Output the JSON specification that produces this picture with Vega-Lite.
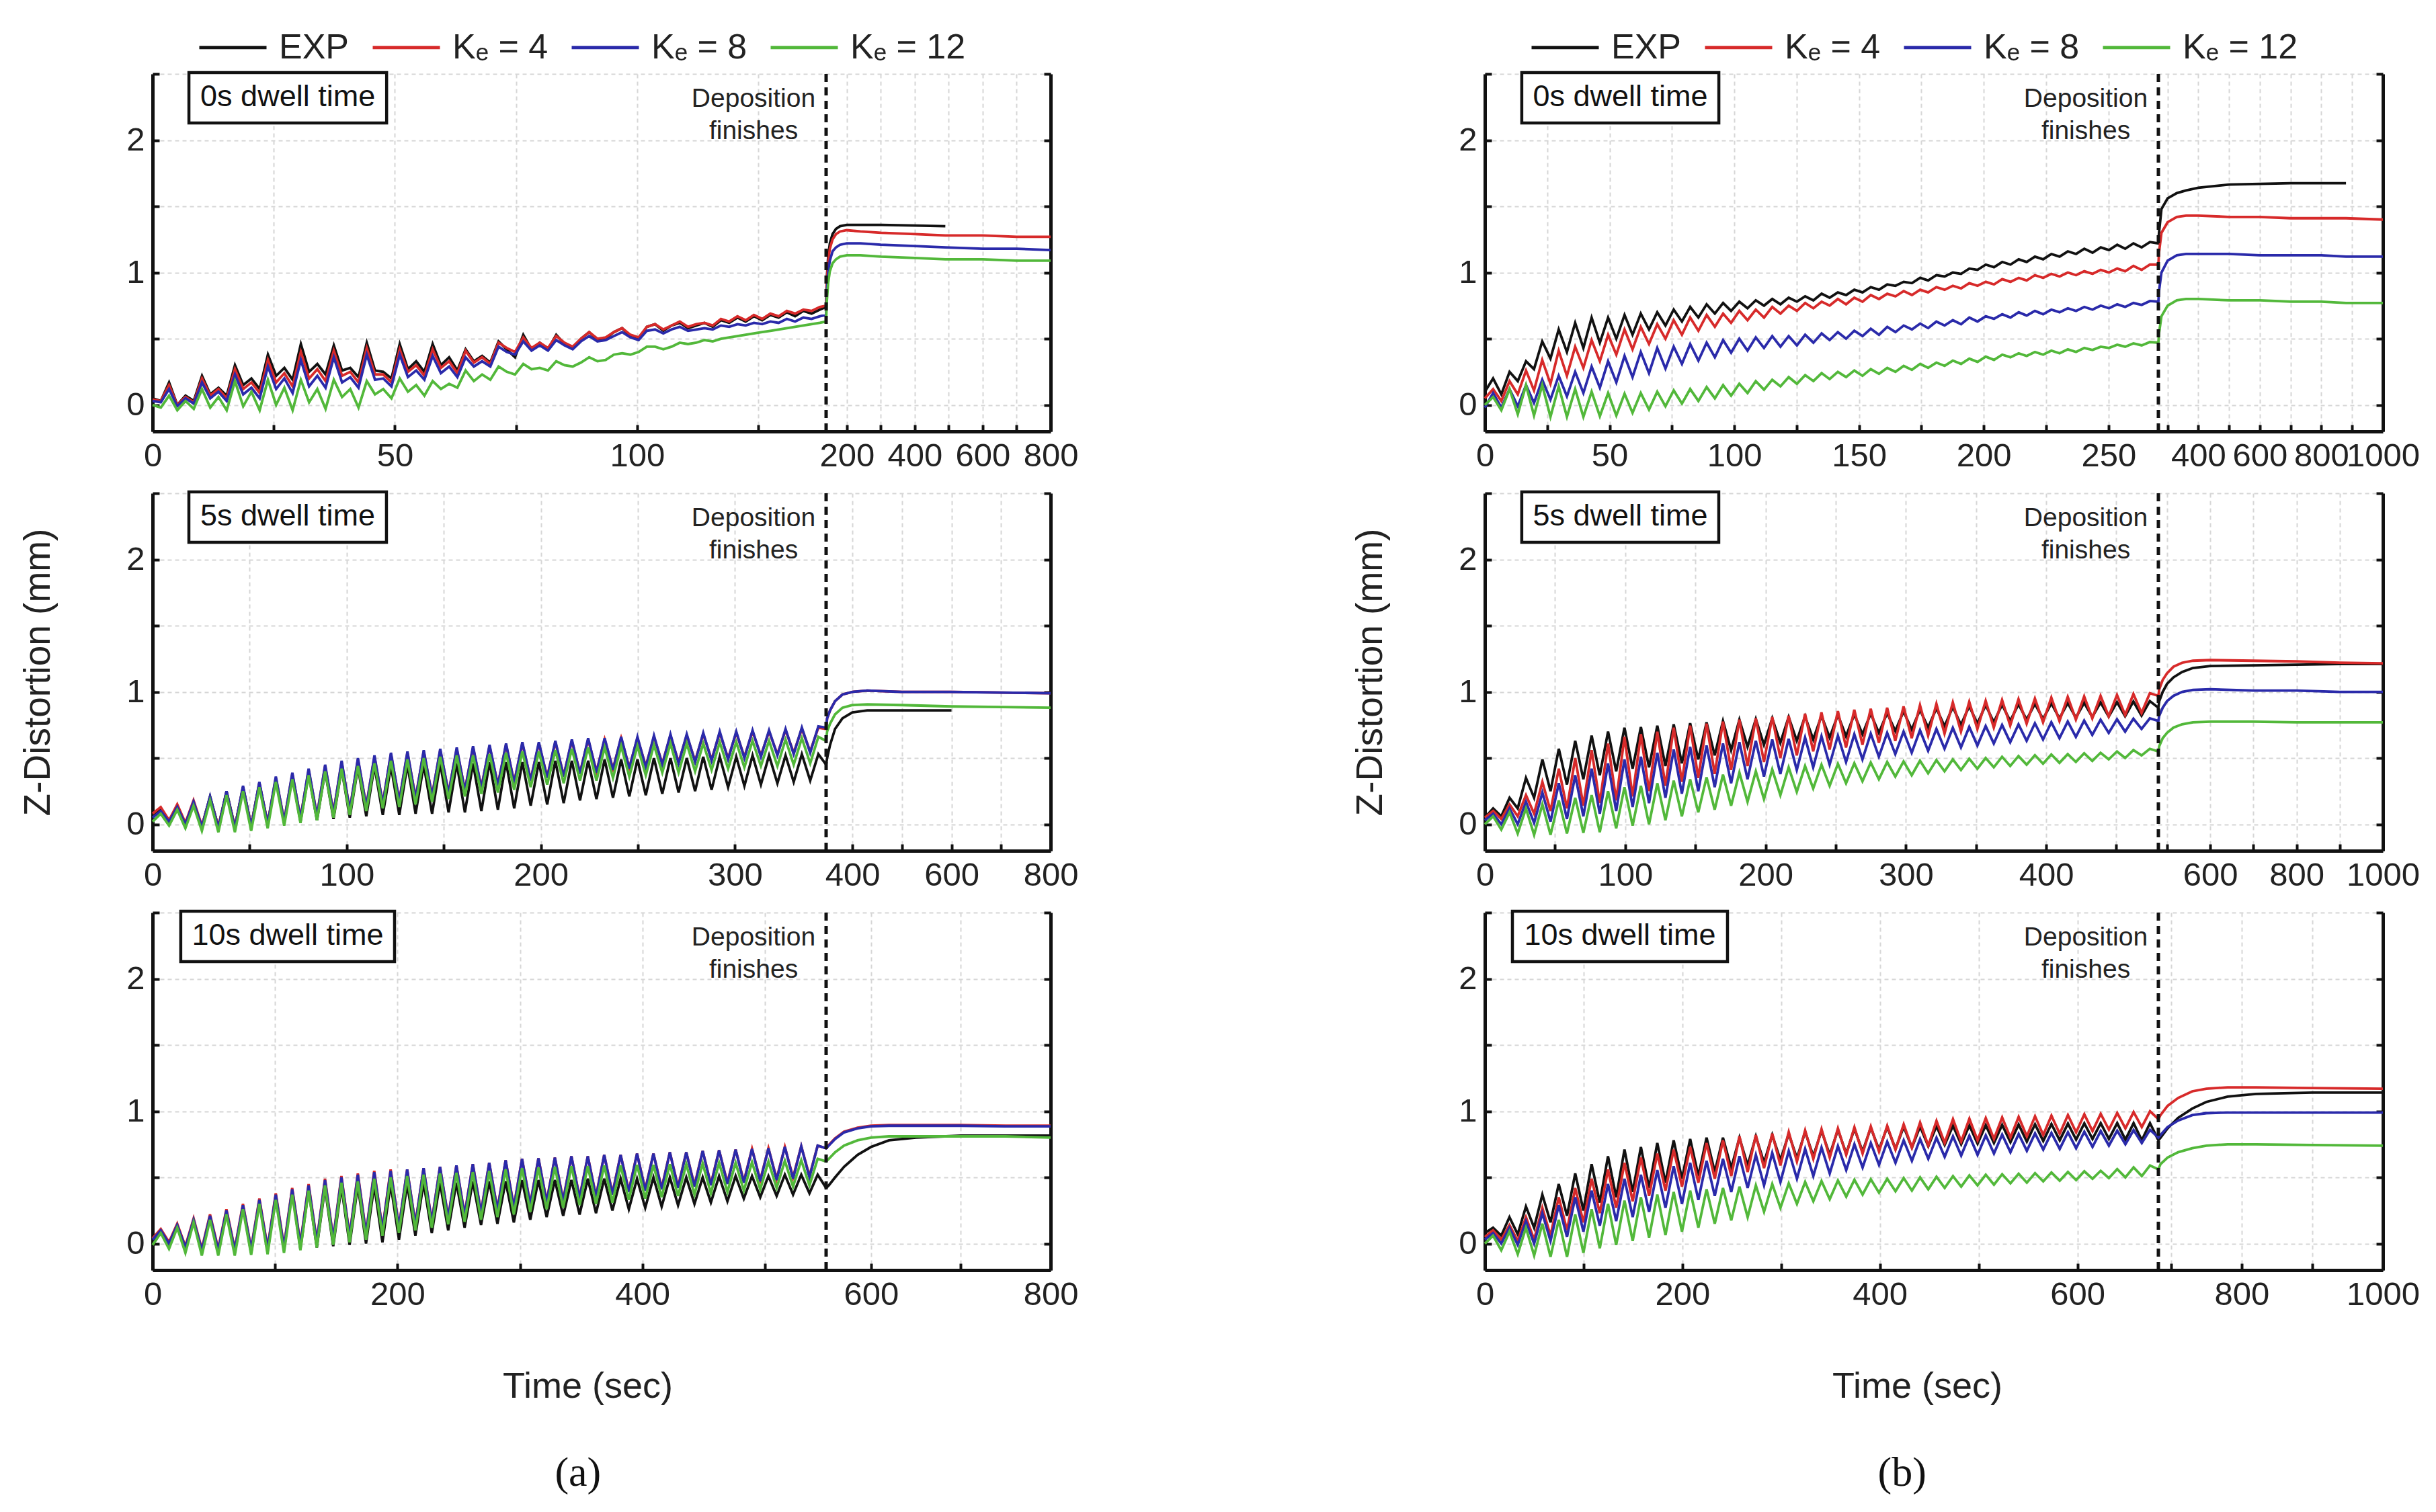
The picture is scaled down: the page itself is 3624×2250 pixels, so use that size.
{
  "$schema": "https://vega.github.io/schema/vega-lite/v6.json",
  "background": "white",
  "padding": {"left": 29, "top": 18, "right": 10, "bottom": 10},
  "config": {
    "font": "Liberation Sans",
    "view": {"stroke": null},
    "axis": {
      "domainColor": "#111111", "domainWidth": 5,
      "tickColor": "#111111", "tickWidth": 4, "tickSize": -10,
      "labelFontSize": 49, "labelColor": "#222222", "labelPadding": 22, "labelFlush": false,
      "gridColor": "#d6d6d6", "gridDash": [6, 5], "gridWidth": 2,
      "titleFontSize": 54, "titleFontWeight": "normal", "titleColor": "#222222"
    },
    "legend": {
      "orient": "none", "direction": "horizontal", "title": null,
      "symbolType": "stroke", "symbolStrokeWidth": 5, "symbolSize": 10000,
      "labelFontSize": 52, "labelColor": "#222222", "labelLimit": 400,
      "columnPadding": 24, "labelOffset": 16, "padding": 0
    }
  },
  "datasets": {
    "a0": [
      {"t":0,"EXP":0.05,"K4":0.04,"K8":0.03,"K12":0.0},
      {"t":1.7,"EXP":0.03,"K4":0.03,"K8":0.02,"K12":-0.02},
      {"t":3.4,"EXP":0.17,"K4":0.15,"K8":0.12,"K12":0.07},
      {"t":5.1,"EXP":0.0,"K4":0.0,"K8":-0.01,"K12":-0.04},
      {"t":6.8,"EXP":0.07,"K4":0.06,"K8":0.05,"K12":0.03},
      {"t":8.5,"EXP":0.03,"K4":0.02,"K8":0.01,"K12":-0.03},
      {"t":10.2,"EXP":0.22,"K4":0.2,"K8":0.17,"K12":0.12},
      {"t":11.9,"EXP":0.08,"K4":0.07,"K8":0.05,"K12":-0.02},
      {"t":13.6,"EXP":0.13,"K4":0.12,"K8":0.1,"K12":0.06},
      {"t":15.3,"EXP":0.07,"K4":0.05,"K8":0.03,"K12":-0.04},
      {"t":17,"EXP":0.3,"K4":0.27,"K8":0.23,"K12":0.18},
      {"t":18.7,"EXP":0.15,"K4":0.12,"K8":0.08,"K12":-0.01},
      {"t":20.4,"EXP":0.2,"K4":0.17,"K8":0.13,"K12":0.1},
      {"t":22.1,"EXP":0.12,"K4":0.09,"K8":0.05,"K12":-0.04},
      {"t":23.8,"EXP":0.38,"K4":0.34,"K8":0.29,"K12":0.19},
      {"t":25.5,"EXP":0.22,"K4":0.17,"K8":0.12,"K12":0.0},
      {"t":27.2,"EXP":0.28,"K4":0.24,"K8":0.2,"K12":0.13},
      {"t":28.9,"EXP":0.19,"K4":0.14,"K8":0.09,"K12":-0.04},
      {"t":30.6,"EXP":0.46,"K4":0.4,"K8":0.34,"K12":0.19},
      {"t":32.3,"EXP":0.25,"K4":0.2,"K8":0.14,"K12":0.02},
      {"t":34,"EXP":0.31,"K4":0.27,"K8":0.22,"K12":0.12},
      {"t":35.7,"EXP":0.23,"K4":0.18,"K8":0.13,"K12":-0.03},
      {"t":37.4,"EXP":0.45,"K4":0.41,"K8":0.36,"K12":0.19},
      {"t":39.1,"EXP":0.26,"K4":0.22,"K8":0.17,"K12":0.06},
      {"t":40.8,"EXP":0.28,"K4":0.25,"K8":0.21,"K12":0.12},
      {"t":42.5,"EXP":0.21,"K4":0.17,"K8":0.13,"K12":-0.02},
      {"t":44.2,"EXP":0.47,"K4":0.43,"K8":0.38,"K12":0.18},
      {"t":45.9,"EXP":0.26,"K4":0.23,"K8":0.19,"K12":0.08},
      {"t":47.6,"EXP":0.25,"K4":0.23,"K8":0.2,"K12":0.12},
      {"t":49.3,"EXP":0.2,"K4":0.17,"K8":0.14,"K12":0.05},
      {"t":51,"EXP":0.46,"K4":0.42,"K8":0.38,"K12":0.2},
      {"t":52.7,"EXP":0.27,"K4":0.25,"K8":0.21,"K12":0.1},
      {"t":54.4,"EXP":0.33,"K4":0.3,"K8":0.26,"K12":0.15},
      {"t":56.1,"EXP":0.25,"K4":0.22,"K8":0.19,"K12":0.07},
      {"t":57.8,"EXP":0.46,"K4":0.42,"K8":0.37,"K12":0.18},
      {"t":59.5,"EXP":0.3,"K4":0.28,"K8":0.24,"K12":0.12},
      {"t":61.2,"EXP":0.36,"K4":0.33,"K8":0.29,"K12":0.16},
      {"t":62.9,"EXP":0.26,"K4":0.24,"K8":0.21,"K12":0.13},
      {"t":64.6,"EXP":0.42,"K4":0.41,"K8":0.36,"K12":0.26},
      {"t":66.3,"EXP":0.33,"K4":0.32,"K8":0.29,"K12":0.18},
      {"t":68,"EXP":0.37,"K4":0.36,"K8":0.33,"K12":0.23},
      {"t":69.7,"EXP":0.32,"K4":0.31,"K8":0.29,"K12":0.19},
      {"t":71.4,"EXP":0.48,"K4":0.47,"K8":0.44,"K12":0.29},
      {"t":73.1,"EXP":0.42,"K4":0.43,"K8":0.4,"K12":0.25},
      {"t":74.8,"EXP":0.36,"K4":0.4,"K8":0.38,"K12":0.23},
      {"t":76.5,"EXP":0.53,"K4":0.51,"K8":0.48,"K12":0.31},
      {"t":78.2,"EXP":0.42,"K4":0.43,"K8":0.41,"K12":0.27},
      {"t":79.9,"EXP":0.47,"K4":0.47,"K8":0.45,"K12":0.28},
      {"t":81.6,"EXP":0.42,"K4":0.43,"K8":0.41,"K12":0.26},
      {"t":83.3,"EXP":0.53,"K4":0.52,"K8":0.49,"K12":0.33},
      {"t":85,"EXP":0.46,"K4":0.47,"K8":0.45,"K12":0.3},
      {"t":86.7,"EXP":0.43,"K4":0.44,"K8":0.42,"K12":0.29},
      {"t":88.4,"EXP":0.5,"K4":0.5,"K8":0.48,"K12":0.32},
      {"t":90.1,"EXP":0.55,"K4":0.55,"K8":0.52,"K12":0.36},
      {"t":91.8,"EXP":0.49,"K4":0.5,"K8":0.48,"K12":0.33},
      {"t":93.5,"EXP":0.5,"K4":0.51,"K8":0.49,"K12":0.34},
      {"t":95.2,"EXP":0.55,"K4":0.55,"K8":0.52,"K12":0.38},
      {"t":96.9,"EXP":0.58,"K4":0.58,"K8":0.55,"K12":0.39},
      {"t":98.6,"EXP":0.52,"K4":0.53,"K8":0.51,"K12":0.38},
      {"t":100.3,"EXP":0.5,"K4":0.51,"K8":0.49,"K12":0.4},
      {"t":102,"EXP":0.59,"K4":0.59,"K8":0.56,"K12":0.44},
      {"t":103.7,"EXP":0.61,"K4":0.61,"K8":0.57,"K12":0.44},
      {"t":105.4,"EXP":0.56,"K4":0.57,"K8":0.54,"K12":0.42},
      {"t":107.1,"EXP":0.6,"K4":0.6,"K8":0.57,"K12":0.44},
      {"t":108.8,"EXP":0.62,"K4":0.63,"K8":0.59,"K12":0.47},
      {"t":110.5,"EXP":0.58,"K4":0.59,"K8":0.56,"K12":0.46},
      {"t":112.2,"EXP":0.6,"K4":0.61,"K8":0.57,"K12":0.47},
      {"t":113.9,"EXP":0.62,"K4":0.62,"K8":0.58,"K12":0.49},
      {"t":115.6,"EXP":0.59,"K4":0.6,"K8":0.57,"K12":0.48},
      {"t":117.3,"EXP":0.64,"K4":0.65,"K8":0.6,"K12":0.5},
      {"t":119,"EXP":0.62,"K4":0.63,"K8":0.59,"K12":0.51},
      {"t":120.7,"EXP":0.66,"K4":0.67,"K8":0.61,"K12":0.52},
      {"t":122.4,"EXP":0.63,"K4":0.64,"K8":0.6,"K12":0.53},
      {"t":124.1,"EXP":0.67,"K4":0.68,"K8":0.62,"K12":0.54},
      {"t":125.8,"EXP":0.64,"K4":0.65,"K8":0.61,"K12":0.55},
      {"t":127.5,"EXP":0.68,"K4":0.69,"K8":0.63,"K12":0.56},
      {"t":129.2,"EXP":0.66,"K4":0.67,"K8":0.62,"K12":0.57},
      {"t":130.9,"EXP":0.7,"K4":0.71,"K8":0.65,"K12":0.58},
      {"t":132.6,"EXP":0.67,"K4":0.69,"K8":0.63,"K12":0.59},
      {"t":134.3,"EXP":0.71,"K4":0.72,"K8":0.66,"K12":0.6},
      {"t":136,"EXP":0.69,"K4":0.71,"K8":0.65,"K12":0.61},
      {"t":137.7,"EXP":0.72,"K4":0.74,"K8":0.67,"K12":0.62},
      {"t":139,"EXP":0.74,"K4":0.75,"K8":0.68,"K12":0.63},
      {"t":141,"EXP":0.95,"K4":0.93,"K8":0.85,"K12":0.78},
      {"t":145,"EXP":1.12,"K4":1.08,"K8":1.0,"K12":0.92},
      {"t":150,"EXP":1.22,"K4":1.18,"K8":1.09,"K12":1.01},
      {"t":158,"EXP":1.29,"K4":1.25,"K8":1.16,"K12":1.07},
      {"t":168,"EXP":1.33,"K4":1.29,"K8":1.19,"K12":1.1},
      {"t":180,"EXP":1.35,"K4":1.31,"K8":1.21,"K12":1.12},
      {"t":200,"EXP":1.36,"K4":1.32,"K8":1.22,"K12":1.13},
      {"t":240,"EXP":1.36,"K4":1.31,"K8":1.22,"K12":1.13},
      {"t":300,"EXP":1.36,"K4":1.3,"K8":1.21,"K12":1.12},
      {"t":400,"EXP":1.355,"K4":1.29,"K8":1.2,"K12":1.11},
      {"t":490,"EXP":1.35,"K4":1.28,"K8":1.19,"K12":1.1},
      {"t":600,"K4":1.28,"K8":1.18,"K12":1.1},
      {"t":700,"K4":1.27,"K8":1.18,"K12":1.09},
      {"t":800,"K4":1.27,"K8":1.17,"K12":1.09}
    ],
    "a5": [
      {"t":0,"EXP":0.05,"K4":0.08,"K8":0.05,"K12":0.02},
      {"t":4.2,"EXP":0.12,"K4":0.13,"K8":0.1,"K12":0.08},
      {"t":8.5,"EXP":0.02,"K4":0.03,"K8":0.02,"K12":-0.01},
      {"t":12.7,"EXP":0.13,"K4":0.15,"K8":0.13,"K12":0.11},
      {"t":16.9,"EXP":0.0,"K4":0.01,"K8":0.0,"K12":-0.03},
      {"t":21.1,"EXP":0.17,"K4":0.18,"K8":0.17,"K12":0.14},
      {"t":25.4,"EXP":-0.02,"K4":-0.01,"K8":-0.02,"K12":-0.05},
      {"t":29.6,"EXP":0.21,"K4":0.2,"K8":0.21,"K12":0.18},
      {"t":33.9,"EXP":-0.02,"K4":-0.02,"K8":-0.03,"K12":-0.06},
      {"t":38.1,"EXP":0.25,"K4":0.24,"K8":0.25,"K12":0.22},
      {"t":42.4,"EXP":-0.02,"K4":-0.02,"K8":-0.03,"K12":-0.06},
      {"t":46.6,"EXP":0.28,"K4":0.28,"K8":0.29,"K12":0.25},
      {"t":50.8,"EXP":-0.01,"K4":-0.01,"K8":-0.02,"K12":-0.05},
      {"t":55,"EXP":0.31,"K4":0.31,"K8":0.32,"K12":0.28},
      {"t":59.3,"EXP":0.0,"K4":0.01,"K8":0.0,"K12":-0.03},
      {"t":63.5,"EXP":0.34,"K4":0.35,"K8":0.36,"K12":0.32},
      {"t":67.8,"EXP":0.01,"K4":0.03,"K8":0.02,"K12":-0.01},
      {"t":72,"EXP":0.36,"K4":0.38,"K8":0.39,"K12":0.34},
      {"t":76.2,"EXP":0.02,"K4":0.05,"K8":0.04,"K12":0.01},
      {"t":80.4,"EXP":0.38,"K4":0.41,"K8":0.42,"K12":0.37},
      {"t":84.7,"EXP":0.03,"K4":0.07,"K8":0.06,"K12":0.03},
      {"t":88.9,"EXP":0.4,"K4":0.44,"K8":0.45,"K12":0.4},
      {"t":93.2,"EXP":0.04,"K4":0.09,"K8":0.08,"K12":0.05},
      {"t":97.4,"EXP":0.42,"K4":0.47,"K8":0.48,"K12":0.42},
      {"t":101.6,"EXP":0.05,"K4":0.11,"K8":0.1,"K12":0.07},
      {"t":105.8,"EXP":0.43,"K4":0.49,"K8":0.5,"K12":0.44},
      {"t":110.1,"EXP":0.06,"K4":0.14,"K8":0.13,"K12":0.1},
      {"t":114.3,"EXP":0.44,"K4":0.51,"K8":0.52,"K12":0.46},
      {"t":118.6,"EXP":0.07,"K4":0.16,"K8":0.15,"K12":0.12},
      {"t":122.8,"EXP":0.44,"K4":0.53,"K8":0.54,"K12":0.48},
      {"t":127.1,"EXP":0.07,"K4":0.18,"K8":0.17,"K12":0.13},
      {"t":131.3,"EXP":0.45,"K4":0.54,"K8":0.55,"K12":0.49},
      {"t":135.5,"EXP":0.08,"K4":0.2,"K8":0.19,"K12":0.15},
      {"t":139.7,"EXP":0.45,"K4":0.55,"K8":0.56,"K12":0.5},
      {"t":144,"EXP":0.08,"K4":0.22,"K8":0.21,"K12":0.17},
      {"t":148.2,"EXP":0.46,"K4":0.56,"K8":0.57,"K12":0.51},
      {"t":152.5,"EXP":0.09,"K4":0.24,"K8":0.23,"K12":0.19},
      {"t":156.7,"EXP":0.46,"K4":0.57,"K8":0.58,"K12":0.52},
      {"t":160.9,"EXP":0.09,"K4":0.26,"K8":0.25,"K12":0.21},
      {"t":165.1,"EXP":0.46,"K4":0.58,"K8":0.59,"K12":0.52},
      {"t":169.4,"EXP":0.1,"K4":0.28,"K8":0.27,"K12":0.23},
      {"t":173.6,"EXP":0.47,"K4":0.59,"K8":0.6,"K12":0.53},
      {"t":177.9,"EXP":0.11,"K4":0.3,"K8":0.29,"K12":0.24},
      {"t":182.1,"EXP":0.47,"K4":0.6,"K8":0.61,"K12":0.54},
      {"t":186.3,"EXP":0.12,"K4":0.32,"K8":0.31,"K12":0.26},
      {"t":190.5,"EXP":0.47,"K4":0.61,"K8":0.62,"K12":0.55},
      {"t":194.8,"EXP":0.14,"K4":0.34,"K8":0.33,"K12":0.28},
      {"t":199,"EXP":0.47,"K4":0.61,"K8":0.62,"K12":0.55},
      {"t":203.3,"EXP":0.15,"K4":0.36,"K8":0.35,"K12":0.3},
      {"t":207.5,"EXP":0.48,"K4":0.62,"K8":0.63,"K12":0.56},
      {"t":211.8,"EXP":0.16,"K4":0.37,"K8":0.36,"K12":0.31},
      {"t":216,"EXP":0.48,"K4":0.63,"K8":0.64,"K12":0.57},
      {"t":220.2,"EXP":0.18,"K4":0.39,"K8":0.38,"K12":0.33},
      {"t":224.4,"EXP":0.48,"K4":0.64,"K8":0.65,"K12":0.58},
      {"t":228.7,"EXP":0.19,"K4":0.4,"K8":0.39,"K12":0.33},
      {"t":232.9,"EXP":0.49,"K4":0.64,"K8":0.65,"K12":0.58},
      {"t":237.2,"EXP":0.2,"K4":0.42,"K8":0.41,"K12":0.35},
      {"t":241.4,"EXP":0.49,"K4":0.65,"K8":0.66,"K12":0.59},
      {"t":245.6,"EXP":0.21,"K4":0.43,"K8":0.42,"K12":0.36},
      {"t":249.8,"EXP":0.49,"K4":0.65,"K8":0.66,"K12":0.59},
      {"t":254.1,"EXP":0.22,"K4":0.44,"K8":0.43,"K12":0.37},
      {"t":258.3,"EXP":0.5,"K4":0.66,"K8":0.67,"K12":0.6},
      {"t":262.6,"EXP":0.23,"K4":0.46,"K8":0.45,"K12":0.39},
      {"t":266.8,"EXP":0.5,"K4":0.67,"K8":0.68,"K12":0.61},
      {"t":271,"EXP":0.24,"K4":0.47,"K8":0.46,"K12":0.39},
      {"t":275.2,"EXP":0.5,"K4":0.67,"K8":0.68,"K12":0.61},
      {"t":279.5,"EXP":0.25,"K4":0.48,"K8":0.47,"K12":0.4},
      {"t":283.7,"EXP":0.51,"K4":0.68,"K8":0.69,"K12":0.61},
      {"t":288,"EXP":0.26,"K4":0.49,"K8":0.48,"K12":0.41},
      {"t":292.2,"EXP":0.51,"K4":0.69,"K8":0.7,"K12":0.62},
      {"t":296.5,"EXP":0.28,"K4":0.5,"K8":0.49,"K12":0.42},
      {"t":300.7,"EXP":0.51,"K4":0.69,"K8":0.7,"K12":0.62},
      {"t":304.9,"EXP":0.29,"K4":0.51,"K8":0.5,"K12":0.43},
      {"t":309.1,"EXP":0.52,"K4":0.7,"K8":0.71,"K12":0.63},
      {"t":313.4,"EXP":0.3,"K4":0.52,"K8":0.51,"K12":0.44},
      {"t":317.6,"EXP":0.52,"K4":0.7,"K8":0.71,"K12":0.63},
      {"t":321.9,"EXP":0.31,"K4":0.53,"K8":0.52,"K12":0.44},
      {"t":326.1,"EXP":0.52,"K4":0.71,"K8":0.72,"K12":0.64},
      {"t":330.3,"EXP":0.32,"K4":0.54,"K8":0.53,"K12":0.45},
      {"t":334.5,"EXP":0.53,"K4":0.72,"K8":0.73,"K12":0.65},
      {"t":338.8,"EXP":0.33,"K4":0.55,"K8":0.54,"K12":0.46},
      {"t":343,"EXP":0.53,"K4":0.73,"K8":0.74,"K12":0.66},
      {"t":347,"EXP":0.45,"K4":0.72,"K8":0.73,"K12":0.63},
      {"t":349,"EXP":0.5,"K4":0.8,"K8":0.8,"K12":0.7},
      {"t":355,"EXP":0.6,"K4":0.86,"K8":0.86,"K12":0.76},
      {"t":365,"EXP":0.72,"K4":0.93,"K8":0.93,"K12":0.83},
      {"t":380,"EXP":0.8,"K4":0.98,"K8":0.98,"K12":0.88},
      {"t":400,"EXP":0.845,"K4":1.0,"K8":1.0,"K12":0.9},
      {"t":430,"EXP":0.86,"K4":1.01,"K8":1.01,"K12":0.905},
      {"t":500,"EXP":0.86,"K4":1.0,"K8":1.0,"K12":0.9},
      {"t":600,"EXP":0.86,"K4":1.0,"K8":1.0,"K12":0.89},
      {"t":700,"K4":0.995,"K8":0.995,"K12":0.885},
      {"t":800,"K4":0.99,"K8":0.99,"K12":0.88}
    ],
    "a10": [
      {"t":0,"EXP":0.02,"K4":0.04,"K8":0.03,"K12":-0.01},
      {"t":6.7,"EXP":0.09,"K4":0.11,"K8":0.1,"K12":0.08},
      {"t":13.4,"EXP":-0.02,"K4":0.01,"K8":0.0,"K12":-0.04},
      {"t":20.1,"EXP":0.13,"K4":0.15,"K8":0.14,"K12":0.12},
      {"t":26.8,"EXP":-0.05,"K4":-0.02,"K8":-0.03,"K12":-0.07},
      {"t":33.5,"EXP":0.17,"K4":0.19,"K8":0.18,"K12":0.16},
      {"t":40.2,"EXP":-0.07,"K4":-0.04,"K8":-0.05,"K12":-0.09},
      {"t":46.9,"EXP":0.2,"K4":0.22,"K8":0.21,"K12":0.18},
      {"t":53.6,"EXP":-0.07,"K4":-0.04,"K8":-0.05,"K12":-0.09},
      {"t":60.3,"EXP":0.24,"K4":0.26,"K8":0.25,"K12":0.22},
      {"t":67.1,"EXP":-0.07,"K4":-0.04,"K8":-0.05,"K12":-0.09},
      {"t":73.8,"EXP":0.28,"K4":0.3,"K8":0.29,"K12":0.26},
      {"t":80.5,"EXP":-0.07,"K4":-0.035,"K8":-0.045,"K12":-0.085},
      {"t":87.2,"EXP":0.32,"K4":0.34,"K8":0.33,"K12":0.3},
      {"t":93.9,"EXP":-0.06,"K4":-0.03,"K8":-0.04,"K12":-0.08},
      {"t":100.6,"EXP":0.36,"K4":0.38,"K8":0.37,"K12":0.33},
      {"t":107.3,"EXP":-0.05,"K4":-0.02,"K8":-0.03,"K12":-0.07},
      {"t":114,"EXP":0.4,"K4":0.42,"K8":0.41,"K12":0.37},
      {"t":120.7,"EXP":-0.04,"K4":0.0,"K8":-0.01,"K12":-0.05},
      {"t":127.4,"EXP":0.41,"K4":0.45,"K8":0.44,"K12":0.4},
      {"t":134.1,"EXP":-0.03,"K4":0.02,"K8":0.01,"K12":-0.03},
      {"t":140.8,"EXP":0.42,"K4":0.49,"K8":0.48,"K12":0.44},
      {"t":147.5,"EXP":-0.02,"K4":0.04,"K8":0.03,"K12":-0.01},
      {"t":154.2,"EXP":0.43,"K4":0.51,"K8":0.5,"K12":0.46},
      {"t":160.9,"EXP":-0.01,"K4":0.06,"K8":0.05,"K12":0.01},
      {"t":167.6,"EXP":0.44,"K4":0.53,"K8":0.52,"K12":0.47},
      {"t":174.3,"EXP":0.0,"K4":0.08,"K8":0.07,"K12":0.03},
      {"t":181,"EXP":0.44,"K4":0.55,"K8":0.54,"K12":0.49},
      {"t":187.7,"EXP":0.01,"K4":0.11,"K8":0.1,"K12":0.06},
      {"t":194.4,"EXP":0.45,"K4":0.56,"K8":0.55,"K12":0.5},
      {"t":201.2,"EXP":0.03,"K4":0.13,"K8":0.12,"K12":0.08},
      {"t":207.9,"EXP":0.45,"K4":0.56,"K8":0.56,"K12":0.51},
      {"t":214.6,"EXP":0.06,"K4":0.15,"K8":0.14,"K12":0.1},
      {"t":221.3,"EXP":0.46,"K4":0.57,"K8":0.57,"K12":0.52},
      {"t":228,"EXP":0.08,"K4":0.17,"K8":0.16,"K12":0.12},
      {"t":234.7,"EXP":0.46,"K4":0.58,"K8":0.58,"K12":0.53},
      {"t":241.4,"EXP":0.1,"K4":0.2,"K8":0.19,"K12":0.145},
      {"t":248.1,"EXP":0.46,"K4":0.59,"K8":0.59,"K12":0.535},
      {"t":254.8,"EXP":0.12,"K4":0.22,"K8":0.21,"K12":0.165},
      {"t":261.5,"EXP":0.47,"K4":0.6,"K8":0.6,"K12":0.54},
      {"t":268.2,"EXP":0.14,"K4":0.24,"K8":0.23,"K12":0.18},
      {"t":274.9,"EXP":0.47,"K4":0.61,"K8":0.61,"K12":0.55},
      {"t":281.6,"EXP":0.15,"K4":0.26,"K8":0.25,"K12":0.2},
      {"t":288.3,"EXP":0.47,"K4":0.63,"K8":0.63,"K12":0.56},
      {"t":295,"EXP":0.16,"K4":0.28,"K8":0.27,"K12":0.22},
      {"t":301.7,"EXP":0.48,"K4":0.64,"K8":0.64,"K12":0.57},
      {"t":308.4,"EXP":0.18,"K4":0.3,"K8":0.29,"K12":0.24},
      {"t":315.1,"EXP":0.48,"K4":0.645,"K8":0.645,"K12":0.575},
      {"t":321.8,"EXP":0.2,"K4":0.32,"K8":0.31,"K12":0.26},
      {"t":328.5,"EXP":0.48,"K4":0.65,"K8":0.65,"K12":0.58},
      {"t":335.3,"EXP":0.21,"K4":0.33,"K8":0.32,"K12":0.27},
      {"t":342,"EXP":0.48,"K4":0.66,"K8":0.66,"K12":0.585},
      {"t":348.7,"EXP":0.22,"K4":0.35,"K8":0.34,"K12":0.29},
      {"t":355.4,"EXP":0.49,"K4":0.66,"K8":0.66,"K12":0.585},
      {"t":362.1,"EXP":0.23,"K4":0.36,"K8":0.35,"K12":0.3},
      {"t":368.8,"EXP":0.49,"K4":0.67,"K8":0.67,"K12":0.59},
      {"t":375.5,"EXP":0.25,"K4":0.38,"K8":0.37,"K12":0.31},
      {"t":382.2,"EXP":0.49,"K4":0.67,"K8":0.67,"K12":0.59},
      {"t":388.9,"EXP":0.26,"K4":0.4,"K8":0.39,"K12":0.33},
      {"t":395.6,"EXP":0.49,"K4":0.68,"K8":0.68,"K12":0.595},
      {"t":402.3,"EXP":0.27,"K4":0.41,"K8":0.4,"K12":0.34},
      {"t":409,"EXP":0.5,"K4":0.68,"K8":0.68,"K12":0.595},
      {"t":415.7,"EXP":0.28,"K4":0.42,"K8":0.41,"K12":0.35},
      {"t":422.4,"EXP":0.5,"K4":0.69,"K8":0.69,"K12":0.6},
      {"t":429.1,"EXP":0.29,"K4":0.43,"K8":0.42,"K12":0.36},
      {"t":435.8,"EXP":0.5,"K4":0.69,"K8":0.69,"K12":0.6},
      {"t":442.5,"EXP":0.3,"K4":0.44,"K8":0.43,"K12":0.37},
      {"t":449.2,"EXP":0.5,"K4":0.7,"K8":0.7,"K12":0.605},
      {"t":455.9,"EXP":0.31,"K4":0.45,"K8":0.44,"K12":0.38},
      {"t":462.6,"EXP":0.51,"K4":0.705,"K8":0.705,"K12":0.61},
      {"t":469.4,"EXP":0.32,"K4":0.46,"K8":0.45,"K12":0.39},
      {"t":476.1,"EXP":0.51,"K4":0.71,"K8":0.71,"K12":0.61},
      {"t":482.8,"EXP":0.34,"K4":0.47,"K8":0.46,"K12":0.4},
      {"t":489.5,"EXP":0.51,"K4":0.715,"K8":0.715,"K12":0.615},
      {"t":496.2,"EXP":0.35,"K4":0.48,"K8":0.47,"K12":0.41},
      {"t":502.9,"EXP":0.51,"K4":0.72,"K8":0.72,"K12":0.62},
      {"t":509.6,"EXP":0.36,"K4":0.49,"K8":0.48,"K12":0.42},
      {"t":516.3,"EXP":0.52,"K4":0.73,"K8":0.73,"K12":0.625},
      {"t":523,"EXP":0.37,"K4":0.5,"K8":0.49,"K12":0.43},
      {"t":529.7,"EXP":0.52,"K4":0.735,"K8":0.735,"K12":0.63},
      {"t":536.4,"EXP":0.38,"K4":0.51,"K8":0.5,"K12":0.44},
      {"t":543.1,"EXP":0.52,"K4":0.74,"K8":0.74,"K12":0.64},
      {"t":550,"EXP":0.42,"K4":0.72,"K8":0.72,"K12":0.62},
      {"t":553,"EXP":0.44,"K4":0.745,"K8":0.74,"K12":0.64},
      {"t":560,"EXP":0.5,"K4":0.795,"K8":0.79,"K12":0.69},
      {"t":570,"EXP":0.58,"K4":0.845,"K8":0.84,"K12":0.74},
      {"t":585,"EXP":0.67,"K4":0.875,"K8":0.87,"K12":0.78},
      {"t":600,"EXP":0.73,"K4":0.89,"K8":0.885,"K12":0.8},
      {"t":620,"EXP":0.78,"K4":0.895,"K8":0.89,"K12":0.81},
      {"t":650,"EXP":0.8,"K4":0.895,"K8":0.89,"K12":0.81},
      {"t":700,"EXP":0.815,"K4":0.895,"K8":0.89,"K12":0.81},
      {"t":750,"EXP":0.815,"K4":0.89,"K8":0.885,"K12":0.81},
      {"t":800,"EXP":0.815,"K4":0.89,"K8":0.885,"K12":0.8}
    ],
    "b0": [
      {"t":0,"EXP":0.1,"K4":0.05,"K8":-0.02,"K12":0.0},
      {"t":3.3,"EXP":0.2,"K4":0.12,"K8":0.09,"K12":0.06},
      {"t":6.6,"EXP":0.08,"K4":0.03,"K8":-0.02,"K12":-0.04},
      {"t":9.9,"EXP":0.25,"K4":0.18,"K8":0.12,"K12":0.12},
      {"t":13.2,"EXP":0.18,"K4":0.08,"K8":-0.01,"K12":-0.07},
      {"t":16.5,"EXP":0.33,"K4":0.26,"K8":0.15,"K12":0.15},
      {"t":19.7,"EXP":0.27,"K4":0.11,"K8":0.015,"K12":-0.08},
      {"t":23,"EXP":0.48,"K4":0.34,"K8":0.19,"K12":0.15},
      {"t":26.3,"EXP":0.35,"K4":0.16,"K8":0.04,"K12":-0.09},
      {"t":29.6,"EXP":0.57,"K4":0.41,"K8":0.22,"K12":0.14},
      {"t":32.9,"EXP":0.4,"K4":0.22,"K8":0.065,"K12":-0.09},
      {"t":36.2,"EXP":0.62,"K4":0.44,"K8":0.25,"K12":0.12},
      {"t":39.5,"EXP":0.43,"K4":0.28,"K8":0.09,"K12":-0.09},
      {"t":42.8,"EXP":0.66,"K4":0.49,"K8":0.29,"K12":0.1},
      {"t":46.1,"EXP":0.47,"K4":0.33,"K8":0.13,"K12":-0.085},
      {"t":49.4,"EXP":0.66,"K4":0.53,"K8":0.33,"K12":0.09},
      {"t":52.7,"EXP":0.5,"K4":0.38,"K8":0.17,"K12":-0.08},
      {"t":56,"EXP":0.68,"K4":0.57,"K8":0.37,"K12":0.085},
      {"t":59.2,"EXP":0.53,"K4":0.42,"K8":0.21,"K12":-0.06},
      {"t":62.5,"EXP":0.69,"K4":0.59,"K8":0.4,"K12":0.09},
      {"t":65.8,"EXP":0.57,"K4":0.46,"K8":0.24,"K12":-0.035},
      {"t":69.1,"EXP":0.7,"K4":0.61,"K8":0.43,"K12":0.1},
      {"t":72.4,"EXP":0.6,"K4":0.5,"K8":0.275,"K12":-0.01},
      {"t":75.7,"EXP":0.72,"K4":0.64,"K8":0.44,"K12":0.11},
      {"t":79,"EXP":0.63,"K4":0.53,"K8":0.31,"K12":0.01},
      {"t":82.3,"EXP":0.74,"K4":0.66,"K8":0.46,"K12":0.12},
      {"t":85.6,"EXP":0.66,"K4":0.56,"K8":0.335,"K12":0.03},
      {"t":88.9,"EXP":0.76,"K4":0.68,"K8":0.47,"K12":0.135},
      {"t":92.2,"EXP":0.69,"K4":0.59,"K8":0.36,"K12":0.05},
      {"t":95.5,"EXP":0.77,"K4":0.69,"K8":0.49,"K12":0.15},
      {"t":98.7,"EXP":0.71,"K4":0.62,"K8":0.395,"K12":0.07},
      {"t":102,"EXP":0.78,"K4":0.71,"K8":0.5,"K12":0.16},
      {"t":105.3,"EXP":0.73,"K4":0.64,"K8":0.41,"K12":0.09},
      {"t":108.6,"EXP":0.79,"K4":0.72,"K8":0.51,"K12":0.18},
      {"t":111.9,"EXP":0.75,"K4":0.66,"K8":0.43,"K12":0.115},
      {"t":115.2,"EXP":0.8,"K4":0.74,"K8":0.52,"K12":0.19},
      {"t":118.5,"EXP":0.76,"K4":0.69,"K8":0.44,"K12":0.14},
      {"t":121.8,"EXP":0.81,"K4":0.75,"K8":0.52,"K12":0.21},
      {"t":125.1,"EXP":0.78,"K4":0.71,"K8":0.45,"K12":0.16},
      {"t":128.4,"EXP":0.82,"K4":0.77,"K8":0.53,"K12":0.225},
      {"t":131.7,"EXP":0.79,"K4":0.73,"K8":0.47,"K12":0.18},
      {"t":135,"EXP":0.84,"K4":0.78,"K8":0.54,"K12":0.24},
      {"t":138.2,"EXP":0.81,"K4":0.75,"K8":0.49,"K12":0.195},
      {"t":141.5,"EXP":0.85,"K4":0.8,"K8":0.55,"K12":0.25},
      {"t":144.8,"EXP":0.83,"K4":0.76,"K8":0.5,"K12":0.21},
      {"t":148.1,"EXP":0.87,"K4":0.81,"K8":0.56,"K12":0.26},
      {"t":151.4,"EXP":0.85,"K4":0.78,"K8":0.52,"K12":0.22},
      {"t":154.7,"EXP":0.89,"K4":0.83,"K8":0.575,"K12":0.27},
      {"t":158,"EXP":0.87,"K4":0.8,"K8":0.53,"K12":0.235},
      {"t":161.3,"EXP":0.91,"K4":0.84,"K8":0.59,"K12":0.28},
      {"t":164.6,"EXP":0.9,"K4":0.82,"K8":0.55,"K12":0.25},
      {"t":167.9,"EXP":0.93,"K4":0.86,"K8":0.6,"K12":0.295},
      {"t":171.2,"EXP":0.92,"K4":0.83,"K8":0.57,"K12":0.265},
      {"t":174.5,"EXP":0.96,"K4":0.87,"K8":0.615,"K12":0.31},
      {"t":177.7,"EXP":0.94,"K4":0.85,"K8":0.58,"K12":0.28},
      {"t":181,"EXP":0.98,"K4":0.89,"K8":0.63,"K12":0.32},
      {"t":184.3,"EXP":0.97,"K4":0.87,"K8":0.6,"K12":0.295},
      {"t":187.6,"EXP":1.0,"K4":0.9,"K8":0.64,"K12":0.335},
      {"t":190.9,"EXP":0.99,"K4":0.88,"K8":0.61,"K12":0.31},
      {"t":194.2,"EXP":1.03,"K4":0.92,"K8":0.66,"K12":0.35},
      {"t":197.5,"EXP":1.02,"K4":0.9,"K8":0.63,"K12":0.325},
      {"t":200.8,"EXP":1.06,"K4":0.93,"K8":0.67,"K12":0.365},
      {"t":204.1,"EXP":1.04,"K4":0.91,"K8":0.65,"K12":0.34},
      {"t":207.4,"EXP":1.08,"K4":0.95,"K8":0.685,"K12":0.38},
      {"t":210.7,"EXP":1.06,"K4":0.93,"K8":0.66,"K12":0.36},
      {"t":214,"EXP":1.1,"K4":0.96,"K8":0.7,"K12":0.39},
      {"t":217.2,"EXP":1.08,"K4":0.94,"K8":0.675,"K12":0.37},
      {"t":220.5,"EXP":1.12,"K4":0.98,"K8":0.71,"K12":0.4},
      {"t":223.8,"EXP":1.1,"K4":0.96,"K8":0.685,"K12":0.38},
      {"t":227.1,"EXP":1.14,"K4":0.99,"K8":0.72,"K12":0.41},
      {"t":230.4,"EXP":1.12,"K4":0.97,"K8":0.7,"K12":0.39},
      {"t":233.7,"EXP":1.16,"K4":1.0,"K8":0.73,"K12":0.42},
      {"t":237,"EXP":1.14,"K4":0.98,"K8":0.71,"K12":0.4},
      {"t":240.3,"EXP":1.18,"K4":1.01,"K8":0.74,"K12":0.43},
      {"t":243.6,"EXP":1.15,"K4":0.99,"K8":0.72,"K12":0.415},
      {"t":246.9,"EXP":1.19,"K4":1.02,"K8":0.75,"K12":0.44},
      {"t":250.2,"EXP":1.17,"K4":1.0,"K8":0.73,"K12":0.43},
      {"t":253.5,"EXP":1.21,"K4":1.03,"K8":0.76,"K12":0.455},
      {"t":256.7,"EXP":1.18,"K4":1.01,"K8":0.74,"K12":0.44},
      {"t":260,"EXP":1.22,"K4":1.05,"K8":0.77,"K12":0.465},
      {"t":263.3,"EXP":1.19,"K4":1.02,"K8":0.755,"K12":0.45},
      {"t":266.6,"EXP":1.23,"K4":1.06,"K8":0.785,"K12":0.475},
      {"t":270,"EXP":1.22,"K4":1.06,"K8":0.78,"K12":0.47},
      {"t":272,"EXP":1.3,"K4":1.15,"K8":0.86,"K12":0.54},
      {"t":280,"EXP":1.48,"K4":1.3,"K8":1.0,"K12":0.67},
      {"t":300,"EXP":1.56,"K4":1.38,"K8":1.09,"K12":0.75},
      {"t":330,"EXP":1.6,"K4":1.42,"K8":1.13,"K12":0.79},
      {"t":360,"EXP":1.62,"K4":1.43,"K8":1.14,"K12":0.8},
      {"t":400,"EXP":1.64,"K4":1.43,"K8":1.14,"K12":0.8},
      {"t":500,"EXP":1.665,"K4":1.42,"K8":1.14,"K12":0.79},
      {"t":600,"EXP":1.67,"K4":1.42,"K8":1.13,"K12":0.79},
      {"t":700,"EXP":1.675,"K4":1.41,"K8":1.13,"K12":0.78},
      {"t":800,"EXP":1.675,"K4":1.41,"K8":1.13,"K12":0.78},
      {"t":880,"EXP":1.675,"K4":1.41,"K8":1.12,"K12":0.77},
      {"t":1000,"K4":1.4,"K8":1.12,"K12":0.77}
    ],
    "b5": [
      {"t":0,"EXP":0.05,"K4":0.05,"K8":0.03,"K12":0.0},
      {"t":5.9,"EXP":0.12,"K4":0.1,"K8":0.08,"K12":0.06},
      {"t":11.7,"EXP":0.06,"K4":0.04,"K8":0.0,"K12":-0.04},
      {"t":17.6,"EXP":0.2,"K4":0.15,"K8":0.12,"K12":0.09},
      {"t":23.4,"EXP":0.12,"K4":0.06,"K8":0.0,"K12":-0.07},
      {"t":29.3,"EXP":0.35,"K4":0.22,"K8":0.17,"K12":0.12},
      {"t":35.1,"EXP":0.2,"K4":0.08,"K8":0.01,"K12":-0.08},
      {"t":41,"EXP":0.49,"K4":0.32,"K8":0.24,"K12":0.15},
      {"t":46.8,"EXP":0.25,"K4":0.1,"K8":0.02,"K12":-0.08},
      {"t":52.7,"EXP":0.57,"K4":0.42,"K8":0.31,"K12":0.18},
      {"t":58.5,"EXP":0.3,"K4":0.12,"K8":0.04,"K12":-0.07},
      {"t":64.4,"EXP":0.63,"K4":0.5,"K8":0.37,"K12":0.2},
      {"t":70.2,"EXP":0.34,"K4":0.14,"K8":0.06,"K12":-0.065},
      {"t":76.1,"EXP":0.67,"K4":0.56,"K8":0.42,"K12":0.22},
      {"t":81.9,"EXP":0.37,"K4":0.16,"K8":0.08,"K12":-0.06},
      {"t":87.8,"EXP":0.7,"K4":0.61,"K8":0.46,"K12":0.25},
      {"t":93.6,"EXP":0.4,"K4":0.18,"K8":0.1,"K12":-0.03},
      {"t":99.5,"EXP":0.73,"K4":0.66,"K8":0.49,"K12":0.28},
      {"t":105.3,"EXP":0.42,"K4":0.21,"K8":0.13,"K12":-0.01},
      {"t":111.2,"EXP":0.735,"K4":0.68,"K8":0.51,"K12":0.29},
      {"t":117,"EXP":0.43,"K4":0.25,"K8":0.16,"K12":0.0},
      {"t":122.9,"EXP":0.745,"K4":0.7,"K8":0.54,"K12":0.31},
      {"t":128.7,"EXP":0.44,"K4":0.29,"K8":0.2,"K12":0.03},
      {"t":134.6,"EXP":0.755,"K4":0.73,"K8":0.565,"K12":0.33},
      {"t":140.4,"EXP":0.46,"K4":0.32,"K8":0.23,"K12":0.06},
      {"t":146.3,"EXP":0.763,"K4":0.745,"K8":0.585,"K12":0.34},
      {"t":152.1,"EXP":0.49,"K4":0.35,"K8":0.25,"K12":0.09},
      {"t":158,"EXP":0.77,"K4":0.76,"K8":0.595,"K12":0.355},
      {"t":163.8,"EXP":0.52,"K4":0.38,"K8":0.28,"K12":0.11},
      {"t":169.7,"EXP":0.78,"K4":0.775,"K8":0.61,"K12":0.375},
      {"t":175.5,"EXP":0.56,"K4":0.41,"K8":0.31,"K12":0.14},
      {"t":181.4,"EXP":0.79,"K4":0.79,"K8":0.62,"K12":0.39},
      {"t":187.2,"EXP":0.585,"K4":0.44,"K8":0.34,"K12":0.17},
      {"t":193.1,"EXP":0.795,"K4":0.8,"K8":0.63,"K12":0.4},
      {"t":198.9,"EXP":0.6,"K4":0.47,"K8":0.36,"K12":0.19},
      {"t":204.8,"EXP":0.8,"K4":0.81,"K8":0.64,"K12":0.415},
      {"t":210.6,"EXP":0.615,"K4":0.5,"K8":0.38,"K12":0.22},
      {"t":216.5,"EXP":0.81,"K4":0.82,"K8":0.645,"K12":0.43},
      {"t":222.3,"EXP":0.63,"K4":0.52,"K8":0.41,"K12":0.245},
      {"t":228.2,"EXP":0.815,"K4":0.835,"K8":0.655,"K12":0.44},
      {"t":234,"EXP":0.64,"K4":0.55,"K8":0.43,"K12":0.27},
      {"t":239.9,"EXP":0.82,"K4":0.845,"K8":0.665,"K12":0.45},
      {"t":245.7,"EXP":0.655,"K4":0.565,"K8":0.45,"K12":0.29},
      {"t":251.6,"EXP":0.826,"K4":0.855,"K8":0.67,"K12":0.457},
      {"t":257.4,"EXP":0.665,"K4":0.58,"K8":0.47,"K12":0.31},
      {"t":263.3,"EXP":0.83,"K4":0.865,"K8":0.68,"K12":0.461},
      {"t":269.1,"EXP":0.68,"K4":0.6,"K8":0.49,"K12":0.325},
      {"t":275,"EXP":0.836,"K4":0.872,"K8":0.685,"K12":0.466},
      {"t":280.8,"EXP":0.69,"K4":0.615,"K8":0.51,"K12":0.34},
      {"t":286.7,"EXP":0.84,"K4":0.88,"K8":0.69,"K12":0.47},
      {"t":292.5,"EXP":0.705,"K4":0.63,"K8":0.53,"K12":0.36},
      {"t":298.4,"EXP":0.853,"K4":0.89,"K8":0.7,"K12":0.475},
      {"t":304.2,"EXP":0.715,"K4":0.65,"K8":0.54,"K12":0.37},
      {"t":310.1,"EXP":0.865,"K4":0.9,"K8":0.71,"K12":0.48},
      {"t":315.9,"EXP":0.73,"K4":0.67,"K8":0.555,"K12":0.385},
      {"t":321.8,"EXP":0.876,"K4":0.91,"K8":0.72,"K12":0.485},
      {"t":327.6,"EXP":0.74,"K4":0.685,"K8":0.57,"K12":0.4},
      {"t":333.5,"EXP":0.886,"K4":0.92,"K8":0.728,"K12":0.49},
      {"t":339.3,"EXP":0.75,"K4":0.7,"K8":0.58,"K12":0.41},
      {"t":345.2,"EXP":0.893,"K4":0.925,"K8":0.735,"K12":0.495},
      {"t":351,"EXP":0.76,"K4":0.72,"K8":0.595,"K12":0.42},
      {"t":356.9,"EXP":0.9,"K4":0.932,"K8":0.742,"K12":0.5},
      {"t":362.7,"EXP":0.77,"K4":0.73,"K8":0.61,"K12":0.43},
      {"t":368.6,"EXP":0.903,"K4":0.938,"K8":0.75,"K12":0.51},
      {"t":374.4,"EXP":0.78,"K4":0.745,"K8":0.62,"K12":0.44},
      {"t":380.3,"EXP":0.907,"K4":0.945,"K8":0.755,"K12":0.515},
      {"t":386.1,"EXP":0.79,"K4":0.76,"K8":0.63,"K12":0.45},
      {"t":392,"EXP":0.91,"K4":0.95,"K8":0.763,"K12":0.522},
      {"t":397.8,"EXP":0.795,"K4":0.77,"K8":0.64,"K12":0.457},
      {"t":403.7,"EXP":0.913,"K4":0.957,"K8":0.77,"K12":0.527},
      {"t":409.5,"EXP":0.8,"K4":0.78,"K8":0.65,"K12":0.464},
      {"t":415.4,"EXP":0.916,"K4":0.962,"K8":0.776,"K12":0.53},
      {"t":421.2,"EXP":0.805,"K4":0.79,"K8":0.66,"K12":0.471},
      {"t":427.1,"EXP":0.918,"K4":0.966,"K8":0.783,"K12":0.536},
      {"t":432.9,"EXP":0.81,"K4":0.8,"K8":0.675,"K12":0.478},
      {"t":438.8,"EXP":0.92,"K4":0.97,"K8":0.79,"K12":0.54},
      {"t":444.6,"EXP":0.813,"K4":0.815,"K8":0.69,"K12":0.49},
      {"t":450.5,"EXP":0.923,"K4":0.977,"K8":0.793,"K12":0.55},
      {"t":456.3,"EXP":0.816,"K4":0.825,"K8":0.7,"K12":0.5},
      {"t":462.2,"EXP":0.927,"K4":0.984,"K8":0.797,"K12":0.56},
      {"t":468,"EXP":0.82,"K4":0.84,"K8":0.72,"K12":0.52},
      {"t":473.9,"EXP":0.93,"K4":0.99,"K8":0.8,"K12":0.57},
      {"t":480,"EXP":0.88,"K4":0.97,"K8":0.78,"K12":0.55},
      {"t":482,"EXP":0.93,"K4":1.02,"K8":0.82,"K12":0.59},
      {"t":490,"EXP":1.0,"K4":1.09,"K8":0.88,"K12":0.65},
      {"t":500,"EXP":1.06,"K4":1.14,"K8":0.93,"K12":0.69},
      {"t":515,"EXP":1.11,"K4":1.19,"K8":0.97,"K12":0.73},
      {"t":535,"EXP":1.15,"K4":1.22,"K8":1.0,"K12":0.755},
      {"t":560,"EXP":1.18,"K4":1.235,"K8":1.015,"K12":0.77},
      {"t":600,"EXP":1.195,"K4":1.24,"K8":1.02,"K12":0.775},
      {"t":700,"EXP":1.2,"K4":1.235,"K8":1.01,"K12":0.775},
      {"t":800,"EXP":1.205,"K4":1.23,"K8":1.01,"K12":0.77},
      {"t":900,"EXP":1.21,"K4":1.22,"K8":1.0,"K12":0.77},
      {"t":1000,"EXP":1.21,"K4":1.215,"K8":1.0,"K12":0.77}
    ],
    "b10": [
      {"t":0,"EXP":0.08,"K4":0.05,"K8":0.03,"K12":0.0},
      {"t":8.3,"EXP":0.12,"K4":0.1,"K8":0.08,"K12":0.06},
      {"t":16.6,"EXP":0.06,"K4":0.03,"K8":0.0,"K12":-0.05},
      {"t":24.9,"EXP":0.2,"K4":0.14,"K8":0.12,"K12":0.09},
      {"t":33.3,"EXP":0.07,"K4":0.02,"K8":-0.01,"K12":-0.08},
      {"t":41.6,"EXP":0.28,"K4":0.2,"K8":0.17,"K12":0.12},
      {"t":49.9,"EXP":0.12,"K4":0.03,"K8":0.0,"K12":-0.09},
      {"t":58.2,"EXP":0.37,"K4":0.27,"K8":0.23,"K12":0.15},
      {"t":66.5,"EXP":0.16,"K4":0.06,"K8":0.02,"K12":-0.1},
      {"t":74.8,"EXP":0.45,"K4":0.35,"K8":0.29,"K12":0.18},
      {"t":83.2,"EXP":0.21,"K4":0.1,"K8":0.05,"K12":-0.1},
      {"t":91.5,"EXP":0.53,"K4":0.42,"K8":0.35,"K12":0.22},
      {"t":99.8,"EXP":0.25,"K4":0.16,"K8":0.09,"K12":-0.07},
      {"t":108.1,"EXP":0.6,"K4":0.49,"K8":0.4,"K12":0.26},
      {"t":116.4,"EXP":0.31,"K4":0.23,"K8":0.135,"K12":-0.035},
      {"t":124.7,"EXP":0.66,"K4":0.56,"K8":0.45,"K12":0.3},
      {"t":133,"EXP":0.35,"K4":0.27,"K8":0.17,"K12":-0.01},
      {"t":141.4,"EXP":0.71,"K4":0.61,"K8":0.49,"K12":0.325},
      {"t":149.7,"EXP":0.39,"K4":0.32,"K8":0.2,"K12":0.02},
      {"t":158,"EXP":0.73,"K4":0.65,"K8":0.52,"K12":0.35},
      {"t":166.3,"EXP":0.42,"K4":0.36,"K8":0.24,"K12":0.045},
      {"t":174.6,"EXP":0.76,"K4":0.68,"K8":0.555,"K12":0.37},
      {"t":182.9,"EXP":0.46,"K4":0.4,"K8":0.27,"K12":0.065},
      {"t":191.2,"EXP":0.78,"K4":0.71,"K8":0.585,"K12":0.39},
      {"t":199.6,"EXP":0.49,"K4":0.43,"K8":0.3,"K12":0.09},
      {"t":207.9,"EXP":0.79,"K4":0.73,"K8":0.61,"K12":0.4},
      {"t":216.2,"EXP":0.51,"K4":0.46,"K8":0.33,"K12":0.12},
      {"t":224.5,"EXP":0.8,"K4":0.76,"K8":0.625,"K12":0.41},
      {"t":232.8,"EXP":0.54,"K4":0.49,"K8":0.36,"K12":0.15},
      {"t":241.1,"EXP":0.8,"K4":0.78,"K8":0.64,"K12":0.42},
      {"t":249.5,"EXP":0.57,"K4":0.51,"K8":0.39,"K12":0.175},
      {"t":257.8,"EXP":0.8,"K4":0.81,"K8":0.66,"K12":0.43},
      {"t":266.1,"EXP":0.59,"K4":0.54,"K8":0.42,"K12":0.2},
      {"t":274.4,"EXP":0.81,"K4":0.82,"K8":0.67,"K12":0.44},
      {"t":282.7,"EXP":0.61,"K4":0.57,"K8":0.44,"K12":0.24},
      {"t":291,"EXP":0.82,"K4":0.83,"K8":0.685,"K12":0.45},
      {"t":299.3,"EXP":0.63,"K4":0.59,"K8":0.465,"K12":0.27},
      {"t":307.7,"EXP":0.83,"K4":0.843,"K8":0.7,"K12":0.455},
      {"t":316,"EXP":0.645,"K4":0.62,"K8":0.49,"K12":0.3},
      {"t":324.3,"EXP":0.845,"K4":0.855,"K8":0.715,"K12":0.465},
      {"t":332.6,"EXP":0.66,"K4":0.64,"K8":0.51,"K12":0.32},
      {"t":340.9,"EXP":0.853,"K4":0.864,"K8":0.726,"K12":0.472},
      {"t":349.2,"EXP":0.67,"K4":0.65,"K8":0.53,"K12":0.335},
      {"t":357.5,"EXP":0.86,"K4":0.87,"K8":0.737,"K12":0.477},
      {"t":365.9,"EXP":0.68,"K4":0.67,"K8":0.555,"K12":0.355},
      {"t":374.2,"EXP":0.868,"K4":0.878,"K8":0.75,"K12":0.482},
      {"t":382.5,"EXP":0.695,"K4":0.68,"K8":0.575,"K12":0.37},
      {"t":390.8,"EXP":0.875,"K4":0.884,"K8":0.76,"K12":0.486},
      {"t":399.1,"EXP":0.71,"K4":0.695,"K8":0.595,"K12":0.385},
      {"t":407.4,"EXP":0.88,"K4":0.89,"K8":0.77,"K12":0.49},
      {"t":415.8,"EXP":0.715,"K4":0.71,"K8":0.61,"K12":0.395},
      {"t":424.1,"EXP":0.883,"K4":0.9,"K8":0.78,"K12":0.495},
      {"t":432.4,"EXP":0.725,"K4":0.725,"K8":0.625,"K12":0.4},
      {"t":440.7,"EXP":0.885,"K4":0.915,"K8":0.79,"K12":0.5},
      {"t":449,"EXP":0.735,"K4":0.74,"K8":0.64,"K12":0.41},
      {"t":457.3,"EXP":0.887,"K4":0.927,"K8":0.8,"K12":0.505},
      {"t":465.6,"EXP":0.745,"K4":0.76,"K8":0.655,"K12":0.42},
      {"t":474,"EXP":0.89,"K4":0.94,"K8":0.81,"K12":0.51},
      {"t":482.3,"EXP":0.75,"K4":0.77,"K8":0.665,"K12":0.43},
      {"t":490.6,"EXP":0.892,"K4":0.943,"K8":0.814,"K12":0.515},
      {"t":498.9,"EXP":0.755,"K4":0.78,"K8":0.67,"K12":0.44},
      {"t":507.2,"EXP":0.894,"K4":0.948,"K8":0.818,"K12":0.52},
      {"t":515.5,"EXP":0.76,"K4":0.79,"K8":0.68,"K12":0.445},
      {"t":523.8,"EXP":0.896,"K4":0.952,"K8":0.823,"K12":0.524},
      {"t":532.2,"EXP":0.765,"K4":0.8,"K8":0.69,"K12":0.455},
      {"t":540.5,"EXP":0.899,"K4":0.957,"K8":0.828,"K12":0.528},
      {"t":548.8,"EXP":0.77,"K4":0.81,"K8":0.7,"K12":0.46},
      {"t":557.1,"EXP":0.901,"K4":0.962,"K8":0.832,"K12":0.532},
      {"t":565.4,"EXP":0.775,"K4":0.82,"K8":0.71,"K12":0.47},
      {"t":573.7,"EXP":0.903,"K4":0.966,"K8":0.836,"K12":0.537},
      {"t":582.1,"EXP":0.78,"K4":0.83,"K8":0.715,"K12":0.475},
      {"t":590.4,"EXP":0.906,"K4":0.971,"K8":0.841,"K12":0.541},
      {"t":598.7,"EXP":0.785,"K4":0.84,"K8":0.72,"K12":0.48},
      {"t":607,"EXP":0.908,"K4":0.976,"K8":0.845,"K12":0.546},
      {"t":615.3,"EXP":0.79,"K4":0.85,"K8":0.73,"K12":0.49},
      {"t":623.6,"EXP":0.91,"K4":0.98,"K8":0.85,"K12":0.55},
      {"t":631.9,"EXP":0.79,"K4":0.86,"K8":0.74,"K12":0.495},
      {"t":640.3,"EXP":0.91,"K4":0.987,"K8":0.853,"K12":0.563},
      {"t":648.6,"EXP":0.785,"K4":0.87,"K8":0.75,"K12":0.5},
      {"t":656.9,"EXP":0.91,"K4":0.993,"K8":0.857,"K12":0.576},
      {"t":665.2,"EXP":0.78,"K4":0.88,"K8":0.76,"K12":0.51},
      {"t":673.5,"EXP":0.91,"K4":1.0,"K8":0.86,"K12":0.59},
      {"t":682,"EXP":0.78,"K4":0.94,"K8":0.8,"K12":0.56},
      {"t":685,"EXP":0.8,"K4":0.97,"K8":0.82,"K12":0.6},
      {"t":695,"EXP":0.87,"K4":1.04,"K8":0.88,"K12":0.65},
      {"t":710,"EXP":0.95,"K4":1.1,"K8":0.93,"K12":0.69},
      {"t":730,"EXP":1.02,"K4":1.15,"K8":0.97,"K12":0.72},
      {"t":750,"EXP":1.07,"K4":1.17,"K8":0.985,"K12":0.74},
      {"t":780,"EXP":1.11,"K4":1.18,"K8":0.99,"K12":0.75},
      {"t":820,"EXP":1.13,"K4":1.18,"K8":0.99,"K12":0.75},
      {"t":900,"EXP":1.14,"K4":1.175,"K8":0.99,"K12":0.745},
      {"t":1000,"EXP":1.14,"K4":1.17,"K8":0.99,"K12":0.74}
    ]
  },
  "spacing": 407,
  "resolve": {"scale": {"color": "independent"}, "legend": {"color": "independent"}},
  "hconcat": [
    {
      "vconcat": [
        {
          "width": 1336, "height": 532,
          "layer": [
            {
              "data": {"name": "a0"},
              "transform": [{"fold": ["EXP", "K4", "K8", "K12"], "as": ["series", "z"]}],
              "mark": {"type": "line", "strokeWidth": 3.8},
              "encoding": {
                "x": {"field": "t", "type": "quantitative", "scale": {"domain": [0, 139, 800], "range": [0, 1002, 1336], "nice": false, "zero": false},
                  "axis": {"values": [0, 25, 50, 75, 100, 125, 200, 300, 400, 500, 600, 700, 800], "labelExpr": "indexof([0,50,100,200,400,600,800], datum.value) >= 0 ? datum.label : ''", "format": "d", "title": null, "labelOverlap": false}},
                "y": {"field": "z", "type": "quantitative", "scale": {"domain": [-0.2, 2.5], "nice": false, "zero": false},
                  "axis": {"values": [0, 0.5, 1, 1.5, 2, 2.5], "labelExpr": "datum.value % 1 == 0 ? format(datum.value, 'd') : ''", "title": null}},
                "color": {"field": "series", "type": "nominal", "scale": {"domain": ["EXP", "K4", "K8", "K12"], "range": ["#111111", "#d72a2a", "#2a2aaa", "#52b83a"]},
                  "legend": {"legendX": 67, "legendY": -92, "labelExpr": "datum.label == 'EXP' ? 'EXP' : 'Kₑ = ' + slice(datum.label, 1)"}}
              }
            },
            {
              "data": {"values": [{}]},
              "mark": {"type": "rule", "strokeDash": [12, 8], "strokeWidth": 5, "color": "#111111"},
              "encoding": {"x": {"datum": 139, "scale": {"domain": [0, 139, 800], "range": [0, 1002, 1336], "nice": false, "zero": false}}}
            },
            {
              "data": {"values": [{}]},
              "mark": {"type": "text", "dx": -108, "fontSize": 39, "lineHeight": 48, "baseline": "alphabetic", "color": "#222222"},
              "encoding": {
                "x": {"datum": 139, "scale": {"domain": [0, 139, 800], "range": [0, 1002, 1336], "nice": false, "zero": false}},
                "y": {"datum": 2.25, "scale": {"domain": [-0.2, 2.5], "nice": false, "zero": false}, "axis": null},
                "text": {"value": ["Deposition", "finishes"]}
              }
            },
            {
              "data": {"values": [{}]},
              "mark": {"type": "rect", "fill": "white", "stroke": "#111111", "strokeWidth": 4.5},
              "encoding": {
                "x": {"datum": 7.5, "scale": {"domain": [0, 139, 800], "range": [0, 1002, 1336], "nice": false, "zero": false}},
                "x2": {"datum": 48.3},
                "y": {"datum": 2.51, "scale": {"domain": [-0.2, 2.5], "nice": false, "zero": false}, "axis": {"orient": "right", "values": [0, 0.5, 1, 1.5, 2, 2.5], "labels": false, "grid": false, "title": null}},
                "y2": {"datum": 2.13}
              }
            },
            {
              "data": {"values": [{}]},
              "mark": {"type": "text", "fontSize": 45, "color": "#111111"},
              "encoding": {
                "x": {"datum": 27.9, "scale": {"domain": [0, 139, 800], "range": [0, 1002, 1336], "nice": false, "zero": false}},
                "y": {"datum": 2.325, "scale": {"domain": [-0.2, 2.5], "nice": false, "zero": false}, "axis": null},
                "text": {"value": "0s dwell time"}
              }
            }
          ],
          "resolve": {"axis": {"y": "independent"}}
        },
        {
          "width": 1336, "height": 532,
          "layer": [
            {
              "data": {"name": "a5"},
              "transform": [{"fold": ["EXP", "K4", "K8", "K12"], "as": ["series", "z"]}],
              "mark": {"type": "line", "strokeWidth": 3.8},
              "encoding": {
                "x": {"field": "t", "type": "quantitative", "scale": {"domain": [0, 347, 800], "range": [0, 1002, 1336], "nice": false, "zero": false},
                  "axis": {"values": [0, 50, 100, 150, 200, 250, 300, 400, 500, 600, 700, 800], "labelExpr": "indexof([0,100,200,300,400,600,800], datum.value) >= 0 ? datum.label : ''", "format": "d", "title": null, "labelOverlap": false}},
                "y": {"field": "z", "type": "quantitative", "scale": {"domain": [-0.2, 2.5], "nice": false, "zero": false},
                  "axis": {"values": [0, 0.5, 1, 1.5, 2, 2.5], "labelExpr": "datum.value % 1 == 0 ? format(datum.value, 'd') : ''", "title": "Z-Distortion (mm)", "titleFontSize": 55, "titlePadding": 102}},
                "color": {"field": "series", "type": "nominal", "scale": {"domain": ["EXP", "K4", "K8", "K12"], "range": ["#111111", "#d72a2a", "#2a2aaa", "#52b83a"]},
                  "legend": {"legendX": 67, "legendY": -92, "labelExpr": "datum.label == 'EXP' ? 'EXP' : 'Kₑ = ' + slice(datum.label, 1)"}}
              }
            },
            {
              "data": {"values": [{}]},
              "mark": {"type": "rule", "strokeDash": [12, 8], "strokeWidth": 5, "color": "#111111"},
              "encoding": {"x": {"datum": 347, "scale": {"domain": [0, 347, 800], "range": [0, 1002, 1336], "nice": false, "zero": false}}}
            },
            {
              "data": {"values": [{}]},
              "mark": {"type": "text", "dx": -108, "fontSize": 39, "lineHeight": 48, "baseline": "alphabetic", "color": "#222222"},
              "encoding": {
                "x": {"datum": 347, "scale": {"domain": [0, 347, 800], "range": [0, 1002, 1336], "nice": false, "zero": false}},
                "y": {"datum": 2.25, "scale": {"domain": [-0.2, 2.5], "nice": false, "zero": false}, "axis": null},
                "text": {"value": ["Deposition", "finishes"]}
              }
            },
            {
              "data": {"values": [{}]},
              "mark": {"type": "rect", "fill": "white", "stroke": "#111111", "strokeWidth": 4.5},
              "encoding": {
                "x": {"datum": 18.7, "scale": {"domain": [0, 347, 800], "range": [0, 1002, 1336], "nice": false, "zero": false}},
                "x2": {"datum": 120.5},
                "y": {"datum": 2.51, "scale": {"domain": [-0.2, 2.5], "nice": false, "zero": false}, "axis": {"orient": "right", "values": [0, 0.5, 1, 1.5, 2, 2.5], "labels": false, "grid": false, "title": null}},
                "y2": {"datum": 2.13}
              }
            },
            {
              "data": {"values": [{}]},
              "mark": {"type": "text", "fontSize": 45, "color": "#111111"},
              "encoding": {
                "x": {"datum": 69.6, "scale": {"domain": [0, 347, 800], "range": [0, 1002, 1336], "nice": false, "zero": false}},
                "y": {"datum": 2.325, "scale": {"domain": [-0.2, 2.5], "nice": false, "zero": false}, "axis": null},
                "text": {"value": "5s dwell time"}
              }
            }
          ],
          "resolve": {"axis": {"y": "independent"}}
        },
        {
          "width": 1336, "height": 532,
          "layer": [
            {
              "data": {"name": "a10"},
              "transform": [{"fold": ["EXP", "K4", "K8", "K12"], "as": ["series", "z"]}],
              "mark": {"type": "line", "strokeWidth": 3.8},
              "encoding": {
                "x": {"field": "t", "type": "quantitative", "scale": {"domain": [0, 550, 800], "range": [0, 1002, 1336], "nice": false, "zero": false},
                  "axis": {"values": [0, 100, 200, 300, 400, 500, 600, 700, 800], "labelExpr": "indexof([0,200,400,600,800], datum.value) >= 0 ? datum.label : ''", "format": "d", "title": "Time (sec)", "titlePadding": 85, "titleX": 647, "labelOverlap": false}},
                "y": {"field": "z", "type": "quantitative", "scale": {"domain": [-0.2, 2.5], "nice": false, "zero": false},
                  "axis": {"values": [0, 0.5, 1, 1.5, 2, 2.5], "labelExpr": "datum.value % 1 == 0 ? format(datum.value, 'd') : ''", "title": null}},
                "color": {"field": "series", "type": "nominal", "scale": {"domain": ["EXP", "K4", "K8", "K12"], "range": ["#111111", "#d72a2a", "#2a2aaa", "#52b83a"]},
                  "legend": {"legendX": 67, "legendY": -92, "labelExpr": "datum.label == 'EXP' ? 'EXP' : 'Kₑ = ' + slice(datum.label, 1)"}}
              }
            },
            {
              "data": {"values": [{}]},
              "mark": {"type": "rule", "strokeDash": [12, 8], "strokeWidth": 5, "color": "#111111"},
              "encoding": {"x": {"datum": 550, "scale": {"domain": [0, 550, 800], "range": [0, 1002, 1336], "nice": false, "zero": false}}}
            },
            {
              "data": {"values": [{}]},
              "mark": {"type": "text", "dx": -108, "fontSize": 39, "lineHeight": 48, "baseline": "alphabetic", "color": "#222222"},
              "encoding": {
                "x": {"datum": 550, "scale": {"domain": [0, 550, 800], "range": [0, 1002, 1336], "nice": false, "zero": false}},
                "y": {"datum": 2.25, "scale": {"domain": [-0.2, 2.5], "nice": false, "zero": false}, "axis": null},
                "text": {"value": ["Deposition", "finishes"]}
              }
            },
            {
              "data": {"values": [{}]},
              "mark": {"type": "rect", "fill": "white", "stroke": "#111111", "strokeWidth": 4.5},
              "encoding": {
                "x": {"datum": 23, "scale": {"domain": [0, 550, 800], "range": [0, 1002, 1336], "nice": false, "zero": false}},
                "x2": {"datum": 197.6},
                "y": {"datum": 2.51, "scale": {"domain": [-0.2, 2.5], "nice": false, "zero": false}, "axis": {"orient": "right", "values": [0, 0.5, 1, 1.5, 2, 2.5], "labels": false, "grid": false, "title": null}},
                "y2": {"datum": 2.13}
              }
            },
            {
              "data": {"values": [{}]},
              "mark": {"type": "text", "fontSize": 45, "color": "#111111"},
              "encoding": {
                "x": {"datum": 110.3, "scale": {"domain": [0, 550, 800], "range": [0, 1002, 1336], "nice": false, "zero": false}},
                "y": {"datum": 2.325, "scale": {"domain": [-0.2, 2.5], "nice": false, "zero": false}, "axis": null},
                "text": {"value": "10s dwell time"}
              }
            }
          ],
          "resolve": {"axis": {"y": "independent"}}
        }
      ],
      "spacing": 92,
      "bounds": "flush",
      "resolve": {"scale": {"x": "independent", "color": "shared"}, "legend": {"color": "shared"}},
      "title": {"text": "(a)", "orient": "bottom", "anchor": "middle", "offset": 72, "fontSize": 62, "font": "Liberation Serif", "fontWeight": "normal", "color": "#111111", "dx": 43}
    },
    {
      "vconcat": [
        {
          "width": 1336, "height": 532,
          "layer": [
            {
              "data": {"name": "b0"},
              "transform": [{"fold": ["EXP", "K4", "K8", "K12"], "as": ["series", "z"]}],
              "mark": {"type": "line", "strokeWidth": 3.8},
              "encoding": {
                "x": {"field": "t", "type": "quantitative", "scale": {"domain": [0, 270, 1000], "range": [0, 1002, 1336], "nice": false, "zero": false},
                  "axis": {"values": [0, 25, 50, 75, 100, 125, 150, 175, 200, 225, 250, 300, 400, 500, 600, 700, 800, 900, 1000], "labelExpr": "indexof([0,50,100,150,200,250,400,600,800,1000], datum.value) >= 0 ? datum.label : ''", "format": "d", "title": null, "labelOverlap": false}},
                "y": {"field": "z", "type": "quantitative", "scale": {"domain": [-0.2, 2.5], "nice": false, "zero": false},
                  "axis": {"values": [0, 0.5, 1, 1.5, 2, 2.5], "labelExpr": "datum.value % 1 == 0 ? format(datum.value, 'd') : ''", "title": null}},
                "color": {"field": "series", "type": "nominal", "scale": {"domain": ["EXP", "K4", "K8", "K12"], "range": ["#111111", "#d72a2a", "#2a2aaa", "#52b83a"]},
                  "legend": {"legendX": 67, "legendY": -92, "labelExpr": "datum.label == 'EXP' ? 'EXP' : 'Kₑ = ' + slice(datum.label, 1)"}}
              }
            },
            {
              "data": {"values": [{}]},
              "mark": {"type": "rule", "strokeDash": [12, 8], "strokeWidth": 5, "color": "#111111"},
              "encoding": {"x": {"datum": 270, "scale": {"domain": [0, 270, 1000], "range": [0, 1002, 1336], "nice": false, "zero": false}}}
            },
            {
              "data": {"values": [{}]},
              "mark": {"type": "text", "dx": -108, "fontSize": 39, "lineHeight": 48, "baseline": "alphabetic", "color": "#222222"},
              "encoding": {
                "x": {"datum": 270, "scale": {"domain": [0, 270, 1000], "range": [0, 1002, 1336], "nice": false, "zero": false}},
                "y": {"datum": 2.25, "scale": {"domain": [-0.2, 2.5], "nice": false, "zero": false}, "axis": null},
                "text": {"value": ["Deposition", "finishes"]}
              }
            },
            {
              "data": {"values": [{}]},
              "mark": {"type": "rect", "fill": "white", "stroke": "#111111", "strokeWidth": 4.5},
              "encoding": {
                "x": {"datum": 14.8, "scale": {"domain": [0, 270, 1000], "range": [0, 1002, 1336], "nice": false, "zero": false}},
                "x2": {"datum": 93.8},
                "y": {"datum": 2.51, "scale": {"domain": [-0.2, 2.5], "nice": false, "zero": false}, "axis": {"orient": "right", "values": [0, 0.5, 1, 1.5, 2, 2.5], "labels": false, "grid": false, "title": null}},
                "y2": {"datum": 2.13}
              }
            },
            {
              "data": {"values": [{}]},
              "mark": {"type": "text", "fontSize": 45, "color": "#111111"},
              "encoding": {
                "x": {"datum": 54.3, "scale": {"domain": [0, 270, 1000], "range": [0, 1002, 1336], "nice": false, "zero": false}},
                "y": {"datum": 2.325, "scale": {"domain": [-0.2, 2.5], "nice": false, "zero": false}, "axis": null},
                "text": {"value": "0s dwell time"}
              }
            }
          ],
          "resolve": {"axis": {"y": "independent"}}
        },
        {
          "width": 1336, "height": 532,
          "layer": [
            {
              "data": {"name": "b5"},
              "transform": [{"fold": ["EXP", "K4", "K8", "K12"], "as": ["series", "z"]}],
              "mark": {"type": "line", "strokeWidth": 3.8},
              "encoding": {
                "x": {"field": "t", "type": "quantitative", "scale": {"domain": [0, 480, 1000], "range": [0, 1002, 1336], "nice": false, "zero": false},
                  "axis": {"values": [0, 50, 100, 150, 200, 250, 300, 350, 400, 450, 500, 600, 700, 800, 900, 1000], "labelExpr": "indexof([0,100,200,300,400,600,800,1000], datum.value) >= 0 ? datum.label : ''", "format": "d", "title": null, "labelOverlap": false}},
                "y": {"field": "z", "type": "quantitative", "scale": {"domain": [-0.2, 2.5], "nice": false, "zero": false},
                  "axis": {"values": [0, 0.5, 1, 1.5, 2, 2.5], "labelExpr": "datum.value % 1 == 0 ? format(datum.value, 'd') : ''", "title": "Z-Distortion (mm)", "titleFontSize": 55, "titlePadding": 102}},
                "color": {"field": "series", "type": "nominal", "scale": {"domain": ["EXP", "K4", "K8", "K12"], "range": ["#111111", "#d72a2a", "#2a2aaa", "#52b83a"]},
                  "legend": {"legendX": 67, "legendY": -92, "labelExpr": "datum.label == 'EXP' ? 'EXP' : 'Kₑ = ' + slice(datum.label, 1)"}}
              }
            },
            {
              "data": {"values": [{}]},
              "mark": {"type": "rule", "strokeDash": [12, 8], "strokeWidth": 5, "color": "#111111"},
              "encoding": {"x": {"datum": 480, "scale": {"domain": [0, 480, 1000], "range": [0, 1002, 1336], "nice": false, "zero": false}}}
            },
            {
              "data": {"values": [{}]},
              "mark": {"type": "text", "dx": -108, "fontSize": 39, "lineHeight": 48, "baseline": "alphabetic", "color": "#222222"},
              "encoding": {
                "x": {"datum": 480, "scale": {"domain": [0, 480, 1000], "range": [0, 1002, 1336], "nice": false, "zero": false}},
                "y": {"datum": 2.25, "scale": {"domain": [-0.2, 2.5], "nice": false, "zero": false}, "axis": null},
                "text": {"value": ["Deposition", "finishes"]}
              }
            },
            {
              "data": {"values": [{}]},
              "mark": {"type": "rect", "fill": "white", "stroke": "#111111", "strokeWidth": 4.5},
              "encoding": {
                "x": {"datum": 26.3, "scale": {"domain": [0, 480, 1000], "range": [0, 1002, 1336], "nice": false, "zero": false}},
                "x2": {"datum": 166.7},
                "y": {"datum": 2.51, "scale": {"domain": [-0.2, 2.5], "nice": false, "zero": false}, "axis": {"orient": "right", "values": [0, 0.5, 1, 1.5, 2, 2.5], "labels": false, "grid": false, "title": null}},
                "y2": {"datum": 2.13}
              }
            },
            {
              "data": {"values": [{}]},
              "mark": {"type": "text", "fontSize": 45, "color": "#111111"},
              "encoding": {
                "x": {"datum": 96.5, "scale": {"domain": [0, 480, 1000], "range": [0, 1002, 1336], "nice": false, "zero": false}},
                "y": {"datum": 2.325, "scale": {"domain": [-0.2, 2.5], "nice": false, "zero": false}, "axis": null},
                "text": {"value": "5s dwell time"}
              }
            }
          ],
          "resolve": {"axis": {"y": "independent"}}
        },
        {
          "width": 1336, "height": 532,
          "layer": [
            {
              "data": {"name": "b10"},
              "transform": [{"fold": ["EXP", "K4", "K8", "K12"], "as": ["series", "z"]}],
              "mark": {"type": "line", "strokeWidth": 3.8},
              "encoding": {
                "x": {"field": "t", "type": "quantitative", "scale": {"domain": [0, 682, 1000], "range": [0, 1002, 1336], "nice": false, "zero": false},
                  "axis": {"values": [0, 100, 200, 300, 400, 500, 600, 700, 800, 900, 1000], "labelExpr": "indexof([0,200,400,600,800,1000], datum.value) >= 0 ? datum.label : ''", "format": "d", "title": "Time (sec)", "titlePadding": 85, "titleX": 643, "labelOverlap": false}},
                "y": {"field": "z", "type": "quantitative", "scale": {"domain": [-0.2, 2.5], "nice": false, "zero": false},
                  "axis": {"values": [0, 0.5, 1, 1.5, 2, 2.5], "labelExpr": "datum.value % 1 == 0 ? format(datum.value, 'd') : ''", "title": null}},
                "color": {"field": "series", "type": "nominal", "scale": {"domain": ["EXP", "K4", "K8", "K12"], "range": ["#111111", "#d72a2a", "#2a2aaa", "#52b83a"]},
                  "legend": {"legendX": 67, "legendY": -92, "labelExpr": "datum.label == 'EXP' ? 'EXP' : 'Kₑ = ' + slice(datum.label, 1)"}}
              }
            },
            {
              "data": {"values": [{}]},
              "mark": {"type": "rule", "strokeDash": [12, 8], "strokeWidth": 5, "color": "#111111"},
              "encoding": {"x": {"datum": 682, "scale": {"domain": [0, 682, 1000], "range": [0, 1002, 1336], "nice": false, "zero": false}}}
            },
            {
              "data": {"values": [{}]},
              "mark": {"type": "text", "dx": -108, "fontSize": 39, "lineHeight": 48, "baseline": "alphabetic", "color": "#222222"},
              "encoding": {
                "x": {"datum": 682, "scale": {"domain": [0, 682, 1000], "range": [0, 1002, 1336], "nice": false, "zero": false}},
                "y": {"datum": 2.25, "scale": {"domain": [-0.2, 2.5], "nice": false, "zero": false}, "axis": null},
                "text": {"value": ["Deposition", "finishes"]}
              }
            },
            {
              "data": {"values": [{}]},
              "mark": {"type": "rect", "fill": "white", "stroke": "#111111", "strokeWidth": 4.5},
              "encoding": {
                "x": {"datum": 27.9, "scale": {"domain": [0, 682, 1000], "range": [0, 1002, 1336], "nice": false, "zero": false}},
                "x2": {"datum": 245.7},
                "y": {"datum": 2.51, "scale": {"domain": [-0.2, 2.5], "nice": false, "zero": false}, "axis": {"orient": "right", "values": [0, 0.5, 1, 1.5, 2, 2.5], "labels": false, "grid": false, "title": null}},
                "y2": {"datum": 2.13}
              }
            },
            {
              "data": {"values": [{}]},
              "mark": {"type": "text", "fontSize": 45, "color": "#111111"},
              "encoding": {
                "x": {"datum": 136.8, "scale": {"domain": [0, 682, 1000], "range": [0, 1002, 1336], "nice": false, "zero": false}},
                "y": {"datum": 2.325, "scale": {"domain": [-0.2, 2.5], "nice": false, "zero": false}, "axis": null},
                "text": {"value": "10s dwell time"}
              }
            }
          ],
          "resolve": {"axis": {"y": "independent"}}
        }
      ],
      "spacing": 92,
      "bounds": "flush",
      "resolve": {"scale": {"x": "independent", "color": "shared"}, "legend": {"color": "shared"}},
      "title": {"text": "(b)", "orient": "bottom", "anchor": "middle", "offset": 72, "fontSize": 62, "font": "Liberation Serif", "fontWeight": "normal", "color": "#111111", "dx": 24}
    }
  ]
}
